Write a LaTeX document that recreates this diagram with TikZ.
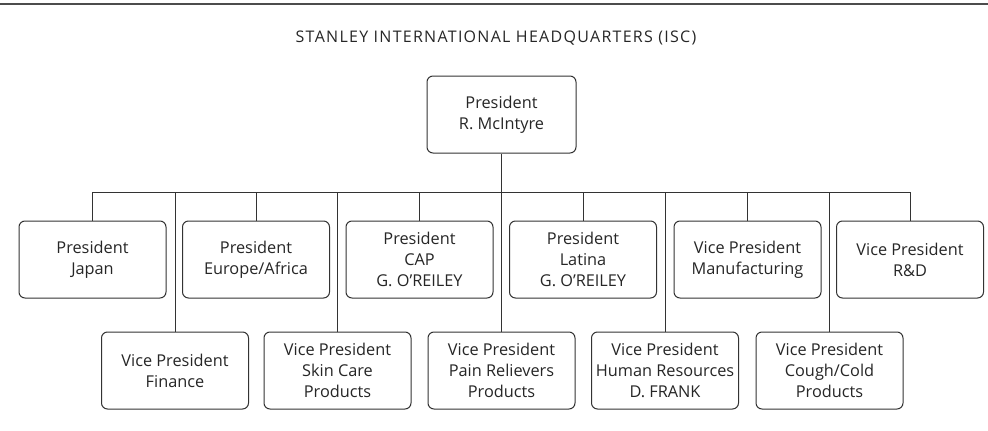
\documentclass[tikz,border=0pt]{standalone}
\usepackage{fontspec}
\setmainfont{Open Sans}
\newfontfamily\titlefont[LetterSpace=8]{Open Sans}
\begin{document}
\begin{tikzpicture}[x=1pt,y=-1pt,
  box/.style={draw=black!80, line width=1pt, rounded corners=6pt, fill=white,
    minimum width=147pt, minimum height=77pt, inner sep=0pt, align=center,
    text=black!85, font=\fontsize{16.3}{21}\selectfont},
  conn/.style={draw=black!80, line width=1pt}]
\useasboundingbox (0,0) rectangle (988,431);
\draw[line width=2pt, black!70] (0,4) -- (988,4);
\node[text=black!85, font=\titlefont\fontsize{16}{18}\selectfont] (title) at (496,38.5)
  {STANLEY INTERNATIONAL HEADQUARTERS (ISC)};
\node[box, minimum width=149pt] (pres) at (501.5,114.5) {President\\R. McIntyre};
% row 1
\node[box] (japan)  at (92.5,259.5)  {President\\Japan};
\node[box] (europe) at (256,259.5)   {President\\Europe/Africa};
\node[box] (cap)    at (419.5,259.5) {President\\CAP\\G. O'REILEY};
\node[box] (latina) at (583,259.5)   {President\\Latina\\G. O'REILEY};
\node[box] (manuf)  at (747.5,259.5) {Vice President\\Manufacturing};
\node[box] (rd)     at (910,259.5)   {Vice President\\R\&D};
% row 2
\node[box] (finance) at (175,370.5)   {Vice President\\Finance};
\node[box] (skin)    at (337.5,370.5) {Vice President\\Skin Care\\Products};
\node[box] (pain)    at (501.5,370.5) {Vice President\\Pain Relievers\\Products};
\node[box] (hr)      at (665,370.5)   {Vice President\\Human Resources\\D. FRANK};
\node[box] (cough)   at (829.5,370.5) {Vice President\\Cough/Cold\\Products};
% bus
\coordinate (busL) at (92.5,192);
\coordinate (busR) at (910,192);
\draw[conn] (busL) -- (busR);
\draw[conn] (pres.south) -- (pain.north);
\foreach \n in {japan,europe,cap,latina,manuf,rd,finance,skin,hr,cough}
  \draw[conn] (\n.north) -- (\n.north |- busL);
\end{tikzpicture}
\end{document}
